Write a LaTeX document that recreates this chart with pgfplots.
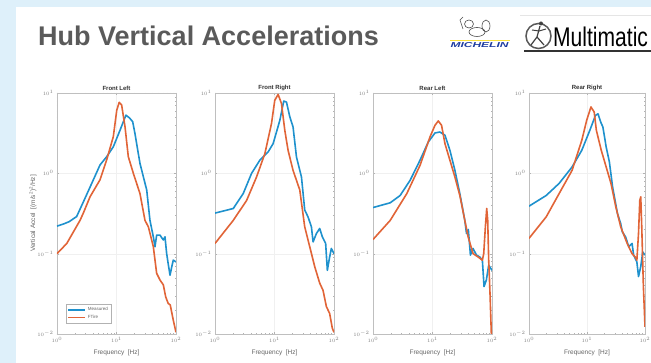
\documentclass[border=0pt]{standalone}
\usepackage{fontspec}
\setmainfont{Liberation Sans}
\usepackage{graphicx}
\usepackage{pgfplots}
\pgfplotsset{compat=1.18}
\definecolor{mblue}{RGB}{30,145,205}
\definecolor{morange}{RGB}{225,100,55}
\definecolor{slideblue}{RGB}{222,240,250}
\definecolor{titlegray}{RGB}{90,90,90}
\definecolor{michblue}{RGB}{30,60,160}
\definecolor{michyellow}{RGB}{250,225,60}
\pgfplotsset{every axis/.append style={
  xmin=1, xmax=100, ymin=0.01, ymax=10,
  width=119pt, height=241pt, scale only axis, anchor=south west,
  xtick={1,10,100}, ytick={0.01,0.1,1,10},
  axis line style={gray!50}, tick style={gray!60, line width=0.3pt},
  major tick length=2pt, minor tick length=1.2pt,
  tick align=inside,
  grid=major, major grid style={gray!12, line width=0.3pt},
  ticklabel style={font=\fontsize{4.8}{5}\selectfont, text=gray},
  title style={font=\bfseries\fontsize{6}{7}\selectfont, yshift=-7pt, text=black!80},
  xlabel={Frequency\ \ [Hz]},
  xlabel style={font=\fontsize{6.5}{7}\selectfont, text=gray!80!black},
  ylabel style={font=\fontsize{6.5}{7}\selectfont, text=gray!80!black, yshift=-6pt},
},
every axis plot/.append style={line width=1.6pt, line join=round}}
\begin{document}
\begin{tikzpicture}
\useasboundingbox (0,0) rectangle (651pt,363pt);
\begin{scope}[x=1pt,y=1pt]
\fill[white] (0,0) rectangle (651,363);
\fill[slideblue] (0,356) rectangle (651,363);
\fill[slideblue] (0,0) rectangle (16,363);
\node[anchor=base west, text=titlegray, font=\bfseries\fontsize{27}{30}\selectfont, inner sep=0] at (38,317) {Hub Vertical Accelerations};
% Michelin logo
\draw[gray!60!black, line width=0.6pt] (469,339) ellipse (4.5 and 4);
\draw[gray!60!black, line width=0.6pt] (477,331) ellipse (8 and 4.5);
\draw[gray!60!black, line width=0.6pt] (486,337) ellipse (4 and 6);
\draw[gray!60!black, line width=0.6pt] (463,334) -- (460,343) -- (463,346);
\draw[michyellow, line width=1pt] (450,322.3) -- (510,322.3);
\node[inner sep=0, text=michblue] at (479.5,317.5) {\resizebox{58pt}{5pt}{\bfseries\itshape MICHELIN}};
% Multimatic logo
\draw[gray!20, line width=0.8pt] (520,348) -- (651,348);
\draw[gray!70!black, line width=1.5pt] (538.5,327) circle (12.5);
\draw[gray!50!black, line width=1.2pt] (540,337) -- (537,326) -- (531,318);
\draw[gray!50!black, line width=1.2pt] (537,326) -- (544,318);
\draw[gray!50!black, line width=1.0pt] (532,333) -- (539,332) -- (546,334);
\fill[gray!50!black] (541,339.5) circle (2);
\node[anchor=base west, inner sep=0, text=black] at (553,316.3) {\scalebox{0.78}[1]{\fontsize{27}{30}\selectfont Multimatic}};
\draw[black!80, line width=1.3pt] (524,312) -- (651,312);
\end{scope}

% ---------- Front Left ----------
\begin{loglogaxis}[at={(57pt,29pt)}, title={Front Left},
  ylabel={Vertical Accel\ \ [(m/s\textsuperscript{2})\textsuperscript{2}/Hz]},
  legend style={at={(0.076,0.046)}, anchor=south west, font=\fontsize{4.5}{5}\selectfont,
    draw=gray!60, inner sep=1pt, row sep=-1.5pt, text=gray!80!black},
  legend cell align=left]
\addplot[mblue] coordinates {(1,0.22) (1.3,0.235) (1.6,0.25) (2.14,0.29) (2.96,0.49) (4.08,0.83) (5.28,1.27) (6.84,1.61) (8.84,2.14) (11.5,3.46) (14.4,5.3) (16.5,4.9) (18.7,4.4) (20.4,3.15) (24.8,1.33) (32.2,0.62) (36.5,0.26) (41.6,0.162) (44.4,0.122) (47.3,0.17) (53.8,0.17) (61.2,0.148) (65.3,0.162) (69.7,0.10) (75,0.07) (79.4,0.054) (85,0.069) (90,0.083) (100,0.079)};
\addlegendentry{Measured}
\addplot[morange] coordinates {(1,0.1) (1.46,0.134) (2.44,0.26) (2.77,0.32) (3.59,0.51) (5.28,0.83) (6.84,1.47) (8.84,2.86) (10.1,6.1) (11.1,7.66) (12.2,7.1) (13.9,3.8) (15.8,1.61) (19.2,1.0) (24.8,0.56) (30.1,0.26) (34.3,0.216) (41.6,0.122) (47.3,0.057) (53.8,0.047) (61.2,0.041) (67.1,0.029) (74,0.024) (80,0.023) (90,0.0149) (96,0.012) (100,0.0105)};
\addlegendentry{FTire}
\end{loglogaxis}

% ---------- Front Right ----------
\begin{loglogaxis}[at={(215pt,29pt)}, title={Front Right}]
\addplot[mblue] coordinates {(1,0.32) (2.03,0.365) (2.98,0.56) (4.12,1.0) (5.68,1.46) (7.83,1.85) (9.5,2.35) (12.3,4.57) (14.3,7.95) (15.9,7.7) (18.1,5.04) (20.5,3.78) (23.4,1.6) (28.4,0.9) (32.2,0.35) (36.6,0.287) (41.7,0.216) (44.5,0.14) (50.6,0.178) (57.5,0.206) (63.7,0.162) (72.4,0.134) (77.3,0.062) (84.5,0.091) (90.2,0.116) (100,0.10)};
\addplot[morange] coordinates {(1,0.134) (2.03,0.26) (3.4,0.46) (4.99,0.9) (6.89,1.76) (8.9,4.16) (10.1,8.1) (11.5,9.6) (13.1,7.4) (14.9,3.43) (16.9,1.94) (20.5,1.09) (26.6,0.62) (32.2,0.216) (39.1,0.122) (47.4,0.069) (57.5,0.043) (65.4,0.035) (74.4,0.022) (84.5,0.018) (93.7,0.0118) (100,0.0105)};
\end{loglogaxis}

% ---------- Rear Left ----------
\begin{loglogaxis}[at={(373pt,29pt)}, title={Rear Left}]
\addplot[mblue] coordinates {(1,0.375) (1.95,0.43) (2.86,0.53) (4.21,0.82) (6.18,1.46) (8.51,2.46) (11.0,3.18) (13.3,3.27) (16.2,2.98) (19.6,1.94) (23.8,1.09) (28.8,0.56) (34.9,0.26) (37.3,0.178) (40,0.2) (43.4,0.096) (48.1,0.116) (54.7,0.096) (62.2,0.091) (68.9,0.083) (73.5,0.039) (80.4,0.047) (88,0.072) (100,0.062)};
\addplot[morange] coordinates {(1,0.15) (1.95,0.26) (3.7,0.56) (6.18,1.26) (9.08,2.84) (11.0,3.96) (12.5,4.49) (14.2,3.96) (16.2,2.34) (19.6,1.46) (23.8,0.9) (28.8,0.53) (34.9,0.26) (39.7,0.162) (48.1,0.10) (58.3,0.091) (68.9,0.083) (72.6,0.1) (77.4,0.216) (81.5,0.365) (84.7,0.26) (88,0.083) (92.6,0.032) (97.4,0.0102) (99,0.006)};
\end{loglogaxis}

% ---------- Rear Right ----------
\begin{loglogaxis}[at={(529pt,29pt)}, width=116pt, title={Rear Right}]
\addplot[mblue] coordinates {(1,0.39) (1.98,0.53) (3.31,0.75) (5.53,1.2) (8.14,1.94) (11.2,3.44) (14.0,5.27) (15.5,5.5) (17.2,4.36) (18.8,3.77) (21.4,2.13) (24.3,1.39) (27.6,0.68) (33.5,0.316) (38.1,0.237) (40.6,0.187) (46.2,0.162) (52.5,0.122) (59.8,0.134) (63.7,0.096) (72.4,0.079) (77.3,0.052) (84.5,0.069) (91.4,0.105) (100,0.096)};
\addplot[morange] coordinates {(1,0.155) (1.98,0.287) (3.31,0.56) (5.53,1.09) (8.14,2.58) (9.87,4.57) (11.7,6.7) (13.3,5.8) (14.5,3.43) (17.6,1.94) (21.4,1.2) (25.9,0.75) (31.4,0.383) (38.1,0.216) (49.3,0.134) (59.8,0.1) (68,0.091) (72.4,0.083) (77.3,0.178) (81.3,0.46) (84.5,0.51) (87.9,0.216) (93.8,0.039) (100,0.0123)};
\end{loglogaxis}
\end{tikzpicture}
\end{document}
